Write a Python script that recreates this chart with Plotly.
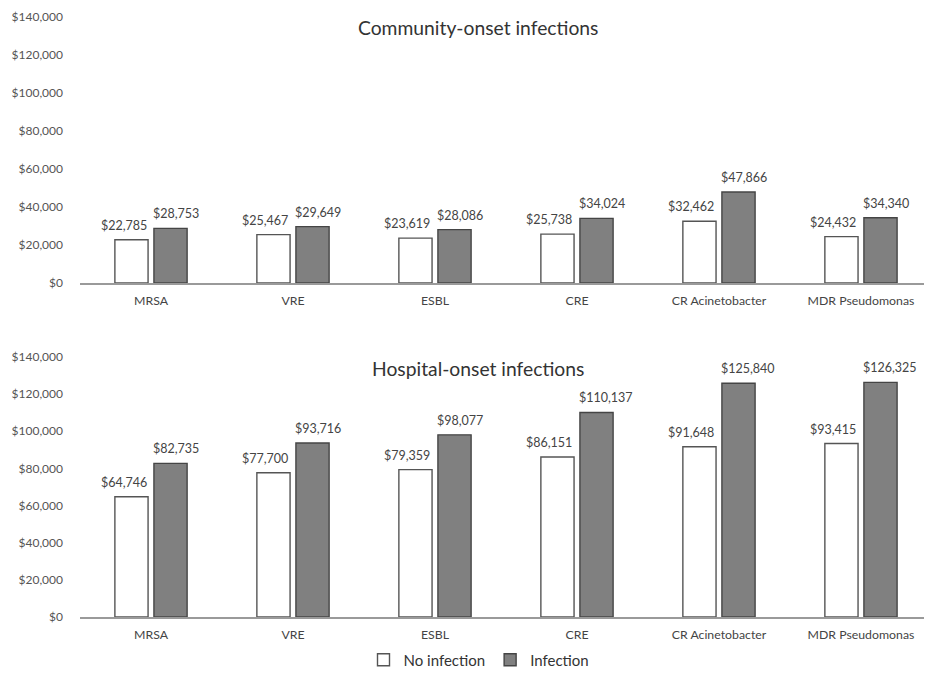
import plotly.graph_objects as go

categories = ["MRSA", "VRE", "ESBL", "CRE", "CR Acinetobacter", "MDR Pseudomonas"]
community_no = [22785, 25467, 23619, 25738, 32462, 24432]
community_inf = [28753, 29649, 28086, 34024, 47866, 34340]
hospital_no = [64746, 77700, 79359, 86151, 91648, 93415]
hospital_inf = [82735, 93716, 98077, 110137, 125840, 126325]
tick_vals = [0, 20000, 40000, 60000, 80000, 100000, 120000, 140000]
tick_text = ["$%s" % format(v, ",") for v in tick_vals]

# page body has an 8px margin; figure sized so the page fits the window without scrolling
OFF = 8
W, H = 916, 664
FONT = "Lato"
AX_LEFT = 80           # window px where the category axis starts
CAT_W = 142.4          # px per category in the reference
X_END = 5.5 - ((932 - (OFF + W)) / CAT_W)


def py(pix):  # window pixel (from top) -> paper fraction
    return 1 - (pix - OFF) / H


def px(pix):
    return (pix - OFF) / W


fig = go.Figure()


def fmt(v):
    return "$%s" % format(v, ",")


def add_pair(no, inf, xa, ya, show):
    fig.add_trace(go.Bar(x=categories, y=no, name="No infection", xaxis=xa, yaxis=ya,
                         marker=dict(color="white", line=dict(color="#555555", width=1.4)),
                         showlegend=show, legendgroup="no"))
    fig.add_trace(go.Bar(x=categories, y=inf, name="Infection", xaxis=xa, yaxis=ya,
                         marker=dict(color="#808080", line=dict(color="#454545", width=1.4)),
                         showlegend=show, legendgroup="inf"))


add_pair(community_no, community_inf, "x", "y", True)
add_pair(hospital_no, hospital_inf, "x2", "y2", False)

annotations = []
for xr, yr, no, inf in (("x", "y", community_no, community_inf),
                        ("x2", "y2", hospital_no, hospital_inf)):
    for cat, v in zip(categories, no):
        annotations.append(dict(x=cat, y=v, xref=xr, yref=yr, text=fmt(v), showarrow=False,
                                xanchor="right", yanchor="bottom", xshift=-2.5, yshift=5,
                                font=dict(size=12.5, color="#444444", family=FONT)))
    for cat, v in zip(categories, inf):
        annotations.append(dict(x=cat, y=v, xref=xr, yref=yr, text=fmt(v), showarrow=False,
                                xanchor="left", yanchor="bottom", xshift=0, yshift=5,
                                font=dict(size=12.5, color="#444444", family=FONT)))

annotations += [
    dict(text="Community-onset infections", x=px(478), y=py(27), xref="paper", yref="paper",
         xanchor="center", yanchor="middle",
         showarrow=False, font=dict(size=19.3, color="#333333", family=FONT)),
    dict(text="Hospital-onset infections", x=px(478), y=py(368), xref="paper", yref="paper",
         xanchor="center", yanchor="middle",
         showarrow=False, font=dict(size=19.3, color="#333333", family=FONT)),
]

xcommon = dict(showline=True, linecolor="#9a9a9a", linewidth=1.5, range=[-0.5, X_END],
               ticks="outside", ticklen=5, tickcolor="rgba(0,0,0,0)",
               tickfont=dict(size=12.3, color="#444444", family=FONT), showgrid=False,
               domain=[px(AX_LEFT), 1.0], automargin=False)
ycommon = dict(range=[0, 140000], tickvals=tick_vals, ticktext=tick_text, showgrid=False,
               showline=False, zeroline=False, ticks="", ticklabelstandoff=16,
               tickfont=dict(size=12, color="#555555", family=FONT), automargin=False)

fig.update_layout(
    width=W, height=H,
    margin=dict(l=0, r=0, t=0, b=0, autoexpand=False),
    paper_bgcolor="white", plot_bgcolor="white",
    barmode="group", bargap=0.45, bargroupgap=0.15,
    font=dict(family=FONT, color="#444444"),
    xaxis=dict(**xcommon, anchor="y"),
    yaxis=dict(**ycommon, domain=[py(283), py(17)], anchor="x"),
    xaxis2=dict(**xcommon, anchor="y2"),
    yaxis2=dict(**ycommon, domain=[py(617), py(357)], anchor="x2"),
    legend=dict(orientation="h", x=px(479), xanchor="center", y=py(660), yanchor="middle",
                itemwidth=30, font=dict(size=15, color="#333333", family=FONT)),
    annotations=annotations,
)

fig.write_html("out.html")
